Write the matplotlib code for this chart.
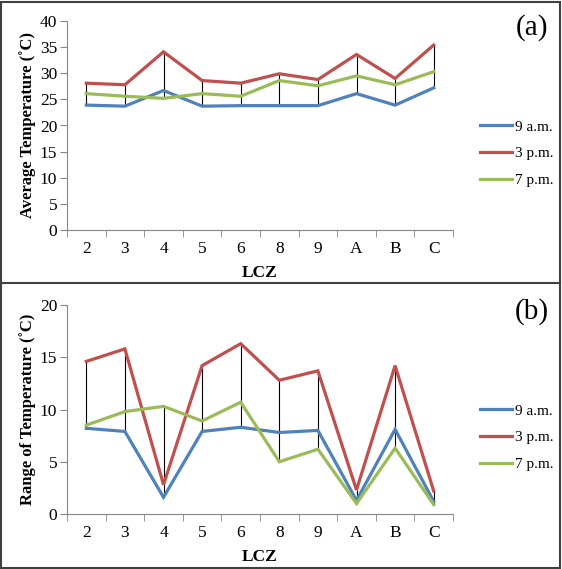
import numpy as np
import matplotlib
matplotlib.use('Agg')
import matplotlib.pyplot as plt
from matplotlib.lines import Line2D

plt.rcParams['font.family'] = ['Liberation Serif', 'DejaVu Serif']

# Data
lcz = ['2', '3', '4', '5', '6', '8', '9', 'A', 'B', 'C']
series_names = ['9 a.m.', '3 p.m.', '7 p.m.']

avg_9am = [23.9, 23.7, 26.7, 23.7, 23.8, 23.8, 23.8, 26.1, 23.9, 27.2]
avg_3pm = [28.1, 27.8, 34.1, 28.6, 28.1, 29.9, 28.8, 33.6, 29.0, 35.4]
avg_7pm = [26.1, 25.6, 25.2, 26.1, 25.6, 28.6, 27.6, 29.5, 27.8, 30.3]

rng_9am = [8.2, 7.9, 1.6, 7.9, 8.3, 7.8, 8.0, 1.3, 8.1, 1.2]
rng_3pm = [14.6, 15.8, 2.8, 14.2, 16.3, 12.8, 13.7, 2.3, 14.2, 2.2]
rng_7pm = [8.5, 9.8, 10.3, 8.9, 10.7, 5.0, 6.2, 1.0, 6.3, 0.9]

colors = ['#4F81BD', '#C0504D', '#9BBB59']
W, H = 562, 569


def px_axes(fig, left, top, right, bottom):
    return fig.add_axes([left / W, 1 - bottom / H, (right - left) / W, (bottom - top) / H])


def draw_panel(fig, top_px, series, ymax, ylabel, tag):
    ax = px_axes(fig, 67, top_px, 453, top_px + 209)
    x = np.arange(len(lcz))
    # high-low lines
    data = np.array(series)
    ax.vlines(x, data.min(axis=0), data.max(axis=0), color='black', lw=0.8, zorder=2)
    for vals, c in zip(series, colors):
        ax.plot(x, vals, color=c, lw=2.3, zorder=3, solid_joinstyle='miter')
    ax.set_xlim(-0.5, len(lcz) - 0.5)
    ax.set_ylim(0, ymax)
    ax.set_yticks(np.arange(0, ymax + 1, 5))
    ax.set_xticks(x)
    ax.set_xticklabels(lcz)
    ax.set_xticks(np.arange(-0.5, len(lcz)), minor=True)
    ax.tick_params(axis='x', which='major', length=0, pad=8, labelsize=12.5)
    ax.tick_params(axis='x', which='minor', length=5, color='#868686', direction='out')
    ax.tick_params(axis='y', length=5, color='#868686', direction='out', labelsize=12.5, pad=2)
    for s in ['top', 'right']:
        ax.spines[s].set_visible(False)
    for s in ['left', 'bottom']:
        ax.spines[s].set_color('#868686')
    ax.set_ylabel(ylabel, fontsize=12, fontweight='bold', labelpad=3)
    ax.set_xlabel('LCZ', fontsize=12.5, fontweight='bold', labelpad=6)
    handles = [Line2D([], [], color=c, lw=2.3) for c in colors]
    ax.legend(handles, series_names, loc='upper left', bbox_to_anchor=(1.055, 0.555),
              frameon=False, fontsize=11, handlelength=2.1, handletextpad=0.15,
              labelspacing=0.85, borderaxespad=0)
    fig.text(532 / W, 1 - (top_px + 7) / H, tag, fontsize=21, ha='center', va='center')
    return ax


fig = plt.figure(figsize=(W / 100, H / 100), dpi=100)

draw_panel(fig, 21, [avg_9am, avg_3pm, avg_7pm], 40, 'Average Temperature (˚C)', '(a)')
draw_panel(fig, 305, [rng_9am, rng_3pm, rng_7pm], 20, 'Range of Temperature (˚C)', '(b)')

# frame and divider
frame = plt.Rectangle((1 / W, 1.5 / H), 559 / W, 566 / H, transform=fig.transFigure,
                      fill=False, ec='#404040', lw=1.5)
fig.patches.append(frame)
fig.add_artist(Line2D([1 / W, 560 / W], [1 - 283 / H, 1 - 283 / H], transform=fig.transFigure,
                      color='#404040', lw=1.5))

fig.savefig('out.png', dpi=100)
